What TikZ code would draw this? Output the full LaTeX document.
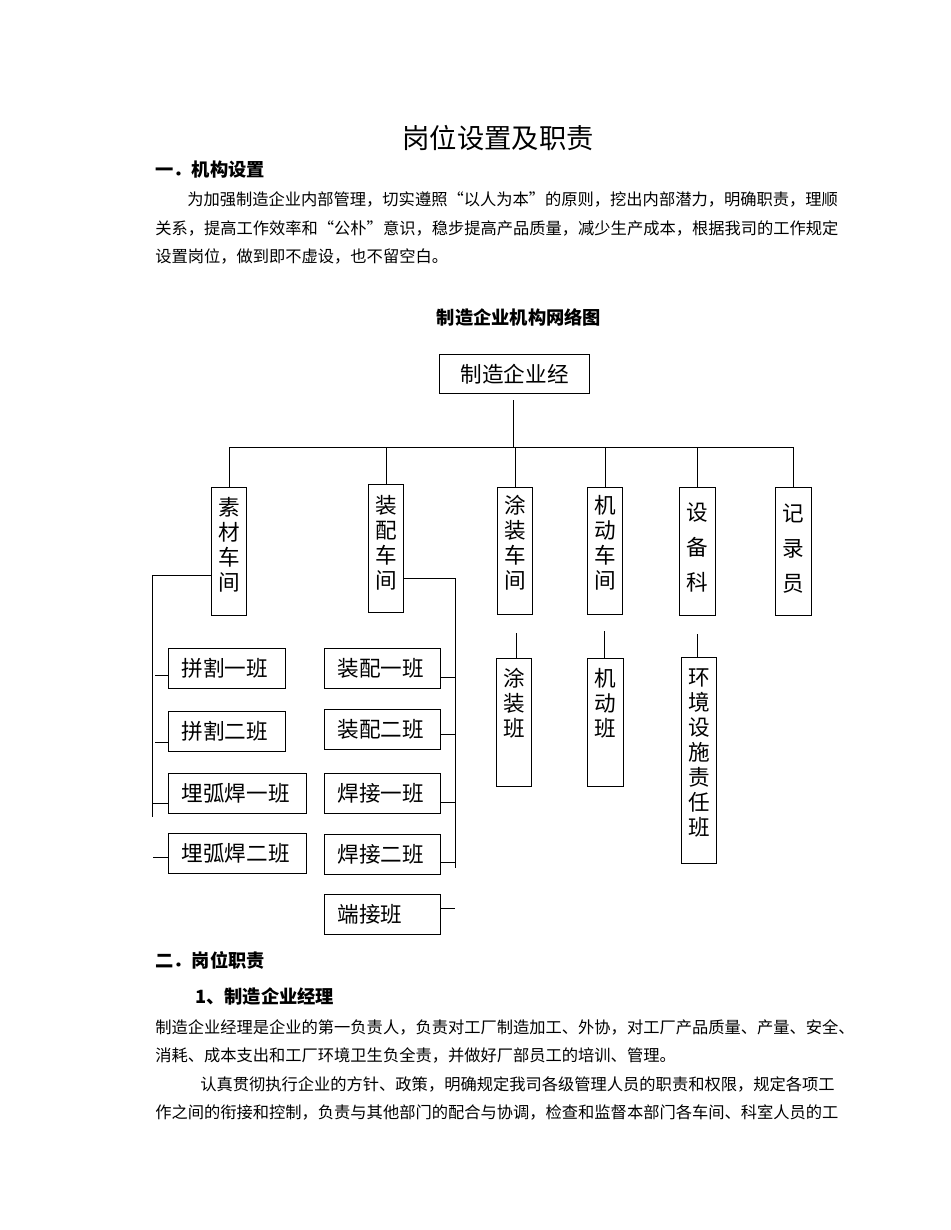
\documentclass[tikz,border=0pt]{standalone}
\usepackage{fontspec}
\setmainfont{Noto Sans CJK SC}
\usetikzlibrary{positioning,calc}
\newcommand{\bodyfont}{\fontsize{12.2}{14.6}\selectfont}
\newcommand{\titlefont}{\fontsize{20.5}{24}\selectfont}
\newcommand{\headfont}{\bfseries\fontsize{13.7}{16}\selectfont}
\newcommand{\chartfont}{\fontsize{16.2}{19}\selectfont}
\tikzset{
  orgbox/.style={draw=black,line width=0.9pt,inner sep=0pt},
  hbox/.style={orgbox,anchor=north west,align=left,inner xsep=9.75pt,
    text width=#1,minimum height=30pt,font=\chartfont},
  hbox/.default=67.5pt,
  vbox/.style 2 args={orgbox,anchor=north west,minimum width=#1*0.75pt,minimum height=#2*0.75pt},
  vtext/.style={align=center,inner sep=0pt,font=\fontsize{16.2}{18.75}\selectfont},
  vtext wide/.style={align=center,inner sep=0pt,font=\fontsize{16.2}{26.3}\selectfont},
  link/.style={draw=black,line width=0.7pt},
  bodyline/.style={anchor=west,inner sep=0pt,font=\bodyfont},
  heading/.style={anchor=west,inner sep=0pt,font=\headfont},
}
\begin{document}
\begin{tikzpicture}[x=0.75pt,y=-0.75pt]
  \fill[white] (0,0) rectangle (950,1230);
  \useasboundingbox (0,0) rectangle (950,1230);
  % title and first section
  \node[font=\titlefont,inner sep=0pt] (title) at (498,138) {岗位设置及职责};
  \node[heading] (s1) at (155,170) {一．机构设置};
  \node[bodyline] (p1) at (187,199) {为加强制造企业内部管理，切实遵照“以人为本”的原则，挖出内部潜力，明确职责，理顺};
  \node[bodyline] (p2) at (155,228) {关系，提高工作效率和“公朴”意识，稳步提高产品质量，减少生产成本，根据我司的工作规定};
  \node[bodyline] (p3) at (155,256) {设置岗位，做到即不虚设，也不留空白。};
  \node[heading,anchor=center] (ct) at (519,317) {制造企业机构网络图};
  % top of the chart
  \node[orgbox,anchor=north west,minimum width=112.5pt,minimum height=29.25pt,font=\chartfont] (boss) at (439,354) {制造企业经};
  \node[vbox={35}{128}] (sc) at (211,487) {};
  \node[vtext,below=7.8pt of sc.north] {素\\材\\车\\间};
  \node[vbox={35}{128}] (zp) at (368,484) {};
  \node[vtext,below=8.5pt of zp.north] {装\\配\\车\\间};
  \node[vbox={35}{127}] (tz) at (497,487) {};
  \node[vtext,below=6.3pt of tz.north] {涂\\装\\车\\间};
  \node[vbox={35}{127}] (jd) at (587,487) {};
  \node[vtext,below=6.3pt of jd.north] {机\\动\\车\\间};
  \node[vbox={36}{128}] (sb) at (679,487) {};
  \node[vtext wide,below=11.5pt of sb.north] {设\\备\\科};
  \node[vbox={36}{128}] (jl) at (775,487) {};
  \node[vtext wide,below=12.3pt of jl.north] {记\\录\\员};
  \coordinate (trunk) at (513,400);
  \coordinate (bar) at (513,447);
  \draw[link] (trunk) -- (bar);
  \draw[link] (sc.north |- bar) -- (jl.north |- bar);
  \foreach \n in {sc,zp,tz,jd,sb,jl}
    \draw[link] (\n.north |- bar) -- (\n.north);
  % left group
  \node[hbox=68.25pt] (pg1) at (168,648) {拼割一班};
  \node[hbox=68.25pt] (pg2) at (168,711) {拼割二班};
  \node[hbox=84pt] (mh1) at (168,773) {埋弧焊一班};
  \node[hbox=84pt] (mh2) at (168,833) {埋弧焊二班};
  \coordinate (lt) at (152,575);
  \coordinate (lb) at (152,817);
  \draw[link] (sc.west |- lt) -- (lt) -- (lb);
  \foreach \n/\x/\y in {pg1/155/675,pg2/155/742,mh1/152/803,mh2/153/857}{
    \coordinate (t\n) at (\x,\y);
    \draw[link] (t\n) -- (\n.west |- t\n);
  }
  % middle group
  \node[hbox] (zp1) at (324,648) {装配一班};
  \node[hbox] (zp2) at (324,709) {装配二班};
  \node[hbox] (hj1) at (324,773) {焊接一班};
  \node[hbox] (hj2) at (324,834) {焊接二班};
  \node[hbox] (dj) at (324,894) {端接班};
  \coordinate (rt) at (455,578);
  \coordinate (rb) at (455,868);
  \draw[link] (zp.east |- rt) -- (rt) -- (rb);
  \foreach \n/\y in {zp1/677,zp2/734,hj1/802,hj2/862,dj/908}{
    \coordinate (t\n) at (455,\y);
    \draw[link] (\n.east |- t\n) -- (t\n);
  }
  % single teams
  \node[vbox={35}{128}] (tzb) at (496,658) {};
  \node[vtext,below=7.8pt of tzb.north] {涂\\装\\班};
  \node[vbox={36}{128}] (jdb) at (587,658) {};
  \node[vtext,below=7.8pt of jdb.north] {机\\动\\班};
  \node[vbox={35}{206}] (hjb) at (681,657) {};
  \node[vtext,below=8.5pt of hjb.north] {环\\境\\设\\施\\责\\任\\班};
  \foreach \n/\x/\y in {tzb/516/633,jdb/604/631,hjb/697/634}{
    \coordinate (u\n) at (\x,\y);
    \draw[link] (u\n) -- (u\n |- \n.north);
  }
  % second section
  \node[heading] (s2) at (155,960) {二．岗位职责};
  \node[heading] (s21) at (195,997) {1、制造企业经理};
  \node[bodyline] (q1) at (155,1027) {制造企业经理是企业的第一负责人，负责对工厂制造加工、外协，对工厂产品质量、产量、安全、};
  \node[bodyline] (q2) at (155,1055) {消耗、成本支出和工厂环境卫生负全责，并做好厂部员工的培训、管理。};
  \node[bodyline] (q3) at (200,1084) {认真贯彻执行企业的方针、政策，明确规定我司各级管理人员的职责和权限，规定各项工};
  \node[bodyline] (q4) at (155,1112) {作之间的衔接和控制，负责与其他部门的配合与协调，检查和监督本部门各车间、科室人员的工};
\end{tikzpicture}
\end{document}
